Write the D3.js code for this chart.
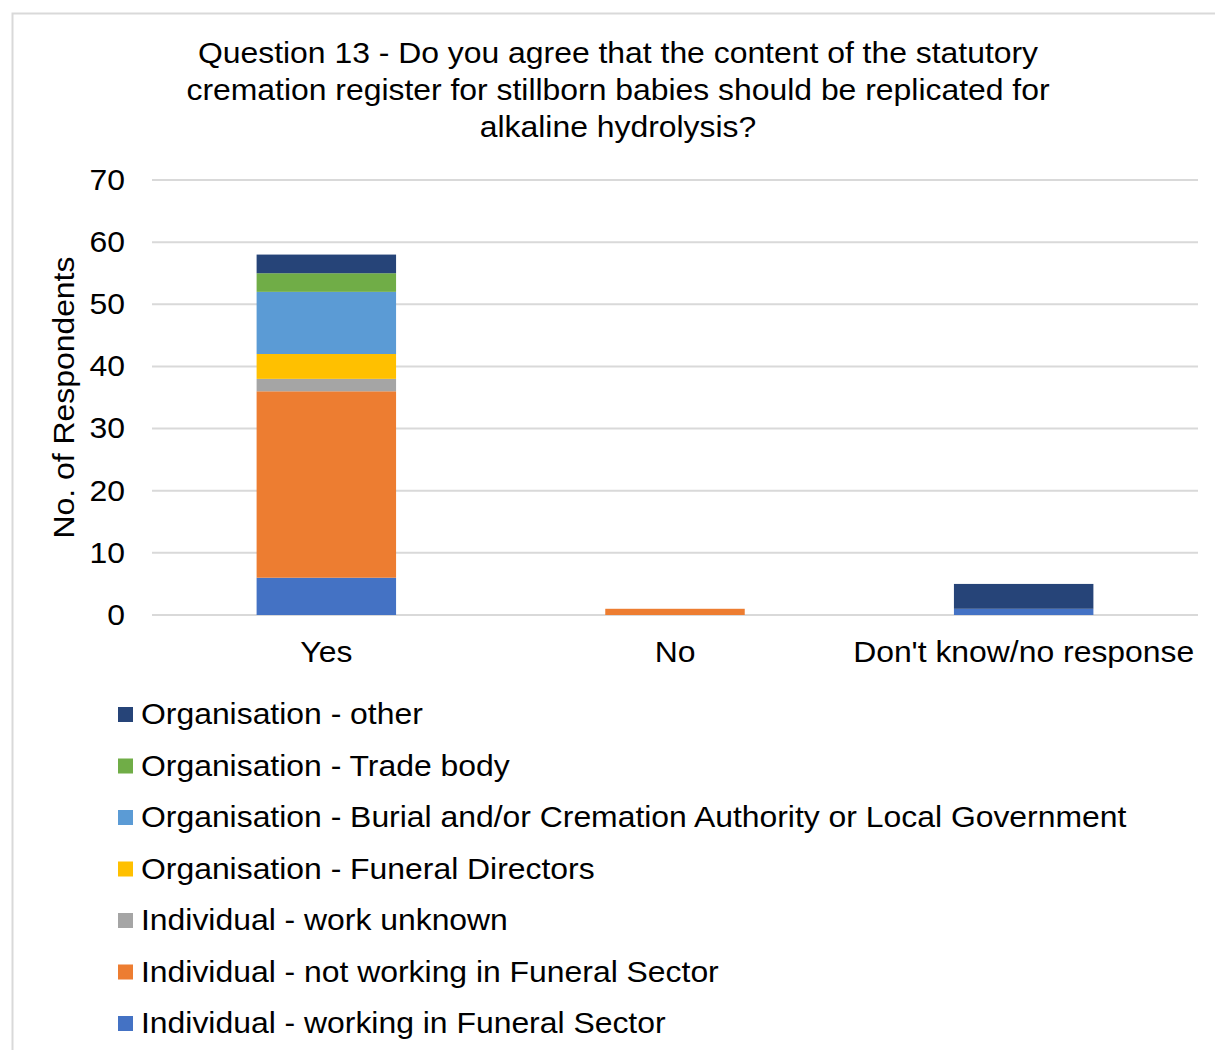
<!DOCTYPE html>
<html>
<head>
<meta charset="utf-8">
<script src="https://cdn.jsdelivr.net/npm/d3@7"></script>
<style>
  html, body { margin: 0; padding: 0; background: #fff; }
  svg { display: block; font-family: "Liberation Sans", Arial, sans-serif; }
</style>
</head>
<body>
<svg id="chart" width="1215" height="1050"></svg>
<script>
// Response categories along the x axis
const categories = ["Yes", "No", "Don't know/no response"];

// Respondent groups, in stacking order (bottom to top)
const seriesNames = [
  "Individual - working in Funeral Sector",
  "Individual - not working in Funeral Sector",
  "Individual - work unknown",
  "Organisation - Funeral Directors",
  "Organisation - Burial and/or Cremation Authority or Local Government",
  "Organisation - Trade body",
  "Organisation - other"
];
const seriesColors = ["#4472C4", "#ED7D31", "#A5A5A5", "#FFC000", "#5B9BD5", "#70AD47", "#264478"];

// Counts per group, one value per category
const workingFuneral    = [6, 0, 1];
const notWorkingFuneral = [30, 1, 0];
const workUnknown       = [2, 0, 0];
const funeralDirectors  = [4, 0, 0];
const burialCremation   = [10, 0, 0];
const tradeBody         = [3, 0, 0];
const orgOther          = [3, 0, 4];
const seriesValues = [workingFuneral, notWorkingFuneral, workUnknown, funeralDirectors,
                      burialCremation, tradeBody, orgOther];

const yTicks = [0, 10, 20, 30, 40, 50, 60, 70];

const titleLines = [
  "Question 13 - Do you agree that the content of the statutory",
  "cremation register for stillborn babies should be replicated for",
  "alkaline hydrolysis?"
];

const FONT = 29;        // text size
const STRETCH = 1.1;    // horizontal widening of the glyphs

const svg = d3.select("#chart");

// chart frame
svg.append("rect")
  .attr("x", 12.5).attr("y", 13.5)
  .attr("width", 1215).attr("height", 1050)
  .attr("fill", "#fff").attr("stroke", "#d9d9d9").attr("stroke-width", 2);

// title
svg.append("g").selectAll("text").data(titleLines).join("text")
  .attr("transform", (d, i) => `translate(618,${63 + i * 37}) scale(${STRETCH},1)`)
  .attr("text-anchor", "middle")
  .attr("font-size", FONT).attr("fill", "#000")
  .text(d => d);

const plot = { left: 152, right: 1198, top: 180, bottom: 615 };

const x = d3.scaleBand().domain(categories)
  .range([plot.left, plot.right]).paddingInner(0.6).paddingOuter(0.3);
const y = d3.scaleLinear().domain([0, 70]).range([plot.bottom, plot.top]);

// gridlines
svg.append("g").selectAll("line").data(yTicks).join("line")
  .attr("x1", plot.left).attr("x2", plot.right)
  .attr("y1", d => y(d)).attr("y2", d => y(d))
  .attr("stroke", "#d9d9d9").attr("stroke-width", 2);

// y axis labels
const yAxis = svg.append("g")
  .attr("transform", `translate(${plot.left},0)`)
  .call(d3.axisLeft(y).tickValues(yTicks).tickSize(0).tickPadding(24.5));
yAxis.select(".domain").remove();
yAxis.selectAll("text")
  .attr("font-size", FONT).attr("fill", "#000")
  .attr("font-family", "Liberation Sans, Arial, sans-serif")
  .attr("transform", `scale(${STRETCH},1)`);

// y axis title
svg.append("text")
  .attr("transform", `translate(74,${(plot.top + plot.bottom) / 2}) rotate(-90) scale(${STRETCH},1)`)
  .attr("text-anchor", "middle")
  .attr("font-size", FONT).attr("fill", "#000")
  .text("No. of Respondents");

// stacked bars
const rows = categories.map((c, i) => {
  const r = { category: c };
  seriesNames.forEach((s, k) => { r[s] = seriesValues[k][i]; });
  return r;
});
const stacked = d3.stack().keys(seriesNames)(rows);

svg.append("g").selectAll("g").data(stacked).join("g")
  .attr("fill", (d, i) => seriesColors[i])
  .selectAll("rect").data(d => d.filter(p => p[1] - p[0] > 0)).join("rect")
  .attr("x", d => x(d.data.category))
  .attr("width", x.bandwidth())
  .attr("y", d => y(d[1]))
  .attr("height", d => y(d[0]) - y(d[1]));

// x axis labels
const xAxis = svg.append("g")
  .attr("transform", `translate(0,${plot.bottom})`)
  .call(d3.axisBottom(x).tickSize(0).tickPadding(26));
xAxis.select(".domain").remove();
xAxis.selectAll("text")
  .attr("font-size", FONT).attr("fill", "#000")
  .attr("font-family", "Liberation Sans, Arial, sans-serif")
  .attr("transform", `scale(${STRETCH},1)`);

// legend, top entry is the top of the stack
const legendOrder = seriesNames.map((s, i) => i).reverse();
const legend = svg.append("g").selectAll("g").data(legendOrder).join("g")
  .attr("transform", (d, i) => `translate(118,${714 + i * 51.5})`);
legend.append("rect")
  .attr("x", 0).attr("y", -7).attr("width", 15).attr("height", 15)
  .attr("fill", d => seriesColors[d]);
legend.append("text")
  .attr("transform", `translate(23,10) scale(${STRETCH},1)`)
  .attr("font-size", FONT).attr("fill", "#000")
  .text(d => seriesNames[d]);
</script>
</body>
</html>
